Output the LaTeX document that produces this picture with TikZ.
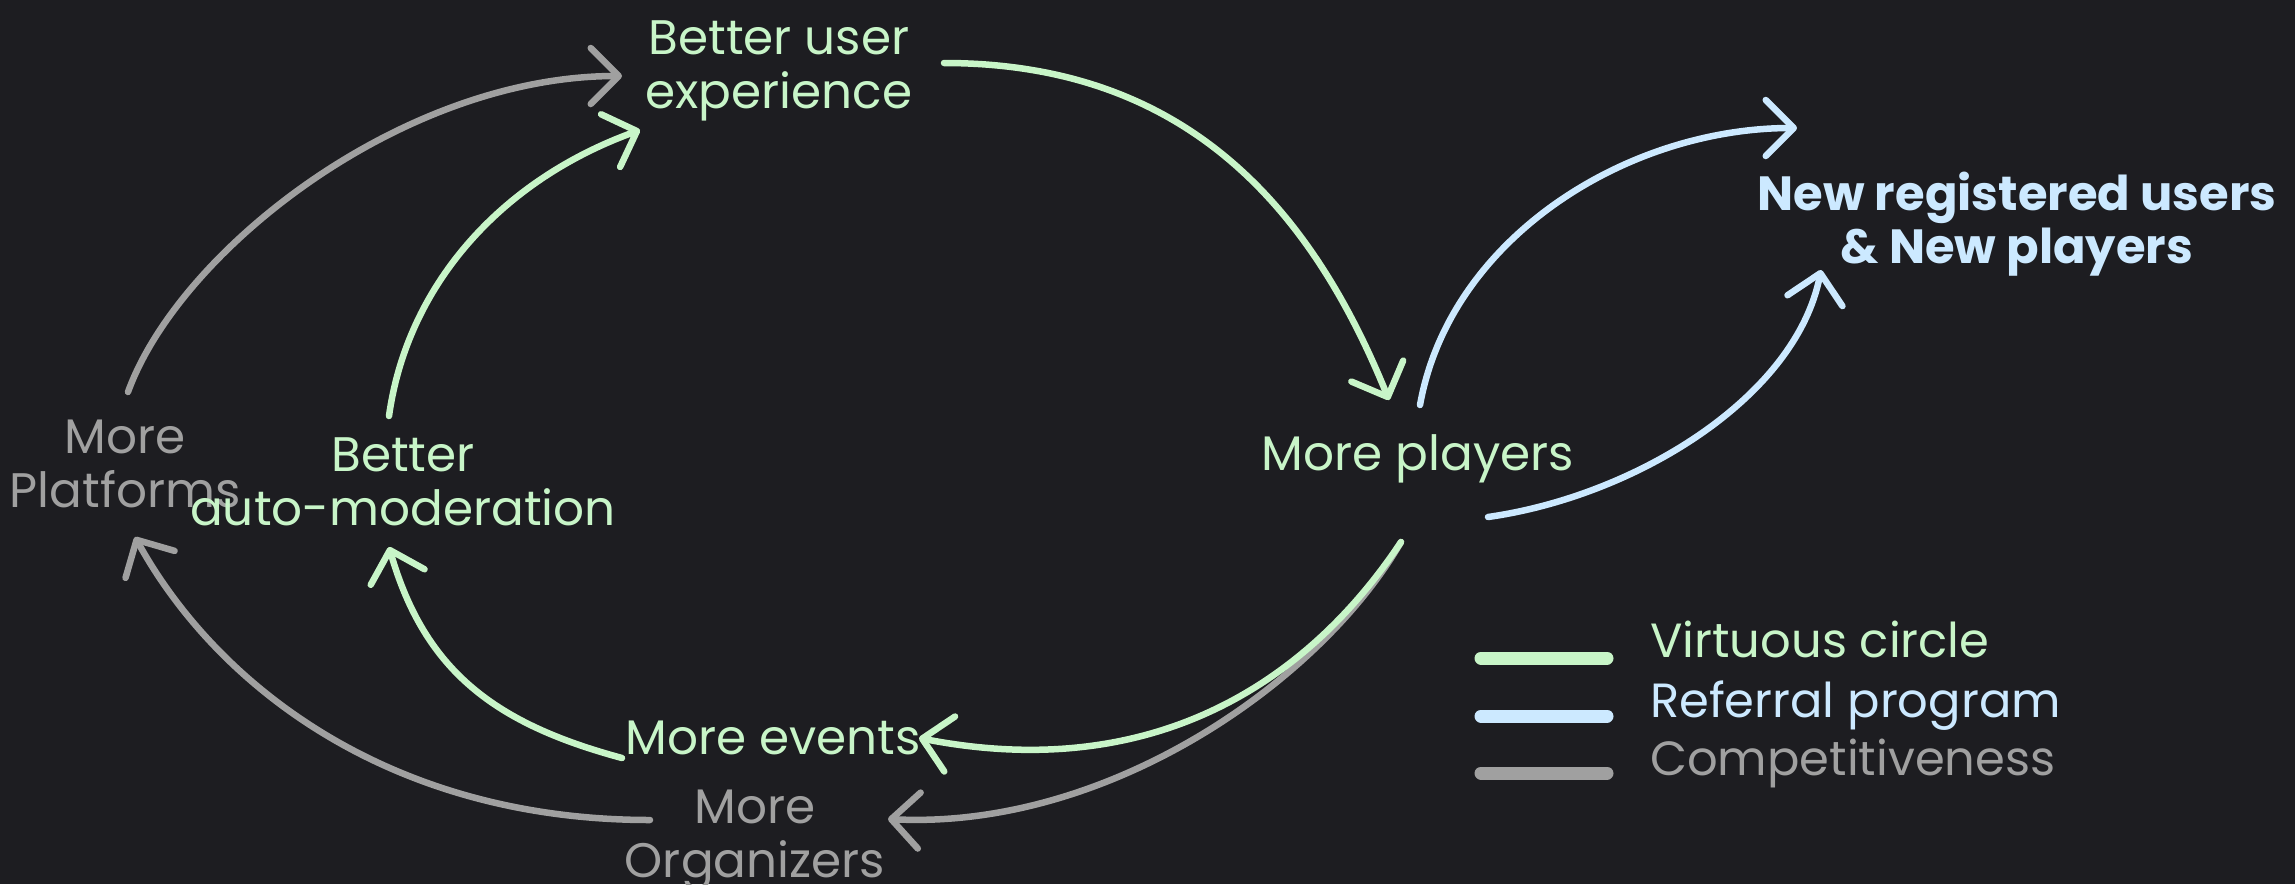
\documentclass[tikz,border=0pt]{standalone}
\usepackage{fontspec}
\setmainfont{Poppins}
\usetikzlibrary{arrows.meta}
\definecolor{bg}{RGB}{29,29,33}
\definecolor{vgreen}{RGB}{200,245,200}
\definecolor{rblue}{RGB}{204,233,255}
\definecolor{cgray}{RGB}{160,160,160}
\begin{document}
\begin{tikzpicture}[x=1pt,y=-1pt,
  lbl/.style={inner sep=0pt, anchor=base, font=\fontsize{48.5}{54}\selectfont},
  legendtext/.style={inner sep=0pt, anchor=base west, font=\fontsize{48}{54}\selectfont},
  link/.style={line width=6.5pt, line cap=round, -{Straight Barb[length=28pt,width=56pt,round]}},
  keyline/.style={line width=13pt, line cap=round},
]
\useasboundingbox (0,0) rectangle (2295,884);
\fill[bg] (0,0) rectangle (2295,884);

% nodes
\node[lbl,text=vgreen] (bux) at (779,54) {\begin{tabular}[t]{@{}c@{}}Better user\\experience\end{tabular}};
\node[lbl,text=vgreen] (players) at (1418,470) {More players};
\node[lbl,text=rblue,font=\fontsize{48}{53}\selectfont\bfseries] (nru) at (2017,210) {\begin{tabular}[t]{@{}c@{}}New registered users\\\& New players\end{tabular}};
\node[lbl,text=cgray] (platforms) at (125,453) {\begin{tabular}[t]{@{}c@{}}More\\Platforms\end{tabular}};
\node[lbl,text=vgreen] (automod) at (403,471) {\begin{tabular}[t]{@{}c@{}}Better\\auto-moderation\end{tabular}};
\node[lbl,text=vgreen] (events) at (773,754) {More events};
\node[lbl,text=cgray] (organizers) at (755,823) {\begin{tabular}[t]{@{}c@{}}More\\Organizers\end{tabular}};

% connector ends
\coordinate (bux-out) at (944,63);
\coordinate (bux-in1) at (622,76);
\coordinate (bux-in2) at (640,130);
\coordinate (players-in) at (1389,400);
\coordinate (players-out1) at (1420,405);
\coordinate (players-out2) at (1488,517);
\coordinate (players-out3) at (1401,542);
\coordinate (nru-in1) at (1797,128);
\coordinate (nru-in2) at (1821,270);
\coordinate (platforms-out) at (128,392);
\coordinate (platforms-in) at (135,537);
\coordinate (automod-out) at (389,416);
\coordinate (automod-in) at (389,547);
\coordinate (events-out) at (622,758);
\coordinate (events-in) at (919,738);
\coordinate (organizers-out) at (650,820);
\coordinate (organizers-in) at (888,819);

% competitiveness
\draw[link,cgray] (platforms-out) .. controls (179,251) and (402,76) .. (bux-in1);
\draw[link,cgray] (organizers-out) .. controls (390,820) and (217,686) .. (platforms-in);
\draw[link,cgray] (players-out3) .. controls (1321,681) and (1108,830) .. (organizers-in);
% virtuous circle
\draw[link,vgreen] (bux-out) .. controls (1184,63) and (1310,205) .. (players-in);
\draw[link,vgreen] (players-out3) .. controls (1302,691) and (1144,782) .. (events-in);
\draw[link,vgreen] (events-out) .. controls (496,724) and (425,672) .. (automod-in);
\draw[link,vgreen] (automod-out) .. controls (407,287) and (499,181) .. (bux-in2);
% referral
\draw[link,rblue] (players-out1) .. controls (1450,238) and (1627,128) .. (nru-in1);
\draw[link,rblue] (players-out2) .. controls (1636,496) and (1796,397) .. (nru-in2);

% legend
\coordinate (k1a) at (1481,658); \coordinate (k1b) at (1607,658);
\coordinate (k2a) at (1481,716); \coordinate (k2b) at (1607,716);
\coordinate (k3a) at (1481,773); \coordinate (k3b) at (1607,773);
\draw[keyline,vgreen] (k1a) -- (k1b);
\draw[keyline,rblue] (k2a) -- (k2b);
\draw[keyline,cgray] (k3a) -- (k3b);
\node[legendtext,text=vgreen] (lg1) at (1650,657) {Virtuous circle};
\node[legendtext,text=rblue] (lg2) at (1650,717) {Referral program};
\node[legendtext,text=cgray] (lg3) at (1650,775) {Competitiveness};
\end{tikzpicture}
\end{document}
